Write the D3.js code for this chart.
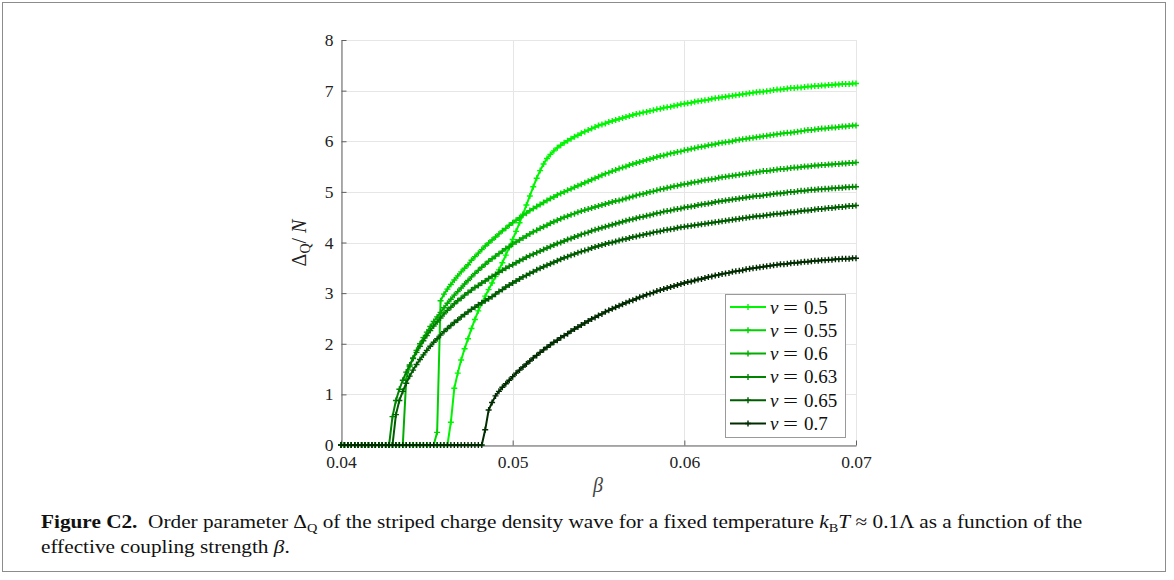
<!DOCTYPE html>
<html>
<head>
<meta charset="utf-8">
<script src="https://cdn.jsdelivr.net/npm/d3@7"></script>
<style>
  body { margin: 0; background: #fff; }
  svg { display: block; }
</style>
</head>
<body>
<svg id="fig" width="1174" height="580"></svg>
<script>
// Sampling grid of the coupling strength beta
const betaStart = 0.04;
const betaStep = 0.0002;
const betaCount = 151;

const xTicks = [0.04, 0.05, 0.06, 0.07];
const yTicks = [0, 1, 2, 3, 4, 5, 6, 7, 8];
const nuLabels = ["0.5", "0.55", "0.6", "0.63", "0.65", "0.7"];

// Order parameter Delta_Q / N for each filling nu, one value per beta sample
const nu05 = [
  0,0,0,0,0,0,0,0,0,0,
  0,0,0,0,0,0,0,0,0,0,
  0,0,0,0,0,0,0,0,0,0,
  0,0,0.45,1.12,1.42,1.68,1.9,2.1,2.3,2.48,
  2.65,2.8,2.94,3.07,3.2,3.33,3.46,3.6,3.75,3.9,
  4.06,4.22,4.39,4.56,4.74,4.92,5.1,5.27,5.42,5.55,
  5.66,5.74,5.81,5.87,5.92,5.97,6.01,6.05,6.09,6.12,
  6.16,6.19,6.22,6.25,6.28,6.31,6.33,6.35,6.38,6.4,
  6.42,6.44,6.46,6.48,6.5,6.52,6.54,6.55,6.57,6.58,
  6.6,6.61,6.63,6.64,6.66,6.67,6.68,6.7,6.71,6.73,
  6.74,6.75,6.76,6.78,6.79,6.8,6.81,6.82,6.84,6.85,
  6.86,6.87,6.88,6.89,6.9,6.91,6.92,6.93,6.94,6.95,
  6.96,6.97,6.98,6.98,6.99,7.0,7.01,7.02,7.02,7.03,
  7.04,7.05,7.05,7.06,7.06,7.07,7.08,7.08,7.09,7.09,
  7.1,7.1,7.11,7.11,7.12,7.12,7.13,7.13,7.13,7.14,
  7.14
];
const nu055 = [
  0,0,0,0,0,0,0,0,0,0,
  0,0,0,0,0,0,0,0,0,0,
  0,0,0,0,0,0,0,0,0.25,2.85,
  2.98,3.08,3.17,3.26,3.34,3.42,3.49,3.56,3.65,3.72,
  3.79,3.86,3.93,3.99,4.05,4.11,4.17,4.23,4.28,4.34,
  4.39,4.44,4.49,4.54,4.58,4.63,4.67,4.71,4.75,4.79,
  4.83,4.87,4.9,4.94,4.97,5.0,5.03,5.06,5.09,5.12,
  5.15,5.18,5.21,5.24,5.27,5.3,5.33,5.36,5.38,5.41,
  5.43,5.46,5.48,5.5,5.53,5.55,5.57,5.59,5.61,5.63,
  5.65,5.67,5.69,5.71,5.72,5.74,5.76,5.77,5.79,5.8,
  5.82,5.83,5.85,5.86,5.88,5.89,5.9,5.92,5.93,5.94,
  5.96,5.97,5.98,5.99,6.0,6.02,6.03,6.04,6.05,6.06,
  6.07,6.08,6.09,6.1,6.11,6.12,6.13,6.14,6.15,6.16,
  6.17,6.17,6.18,6.19,6.2,6.21,6.22,6.22,6.23,6.24,
  6.25,6.25,6.26,6.27,6.27,6.28,6.29,6.29,6.3,6.31,
  6.31
];
const nu06 = [
  0,0,0,0,0,0,0,0,0,0,
  0,0,0,0,0,0,0,0,0,1.3,
  1.55,1.72,1.87,2.0,2.12,2.23,2.34,2.44,2.53,2.62,
  2.71,2.8,2.88,2.96,3.03,3.1,3.18,3.25,3.32,3.39,
  3.45,3.51,3.57,3.63,3.68,3.73,3.78,3.83,3.88,3.92,
  3.97,4.01,4.05,4.09,4.13,4.17,4.21,4.24,4.28,4.31,
  4.34,4.38,4.41,4.44,4.47,4.5,4.52,4.55,4.57,4.6,
  4.62,4.64,4.66,4.68,4.7,4.72,4.74,4.76,4.78,4.8,
  4.82,4.83,4.85,4.87,4.89,4.91,4.93,4.95,4.96,4.98,
  5.0,5.01,5.03,5.05,5.06,5.08,5.09,5.11,5.12,5.14,
  5.15,5.16,5.18,5.19,5.2,5.22,5.23,5.24,5.25,5.26,
  5.28,5.29,5.3,5.31,5.32,5.33,5.34,5.35,5.36,5.37,
  5.38,5.39,5.4,5.41,5.41,5.42,5.43,5.44,5.45,5.45,
  5.46,5.47,5.48,5.48,5.49,5.5,5.5,5.51,5.52,5.52,
  5.53,5.53,5.54,5.54,5.55,5.55,5.56,5.56,5.57,5.57,
  5.58
];
const nu063 = [
  0,0,0,0,0,0,0,0,0,0,
  0,0,0,0,0,0.56,0.88,1.1,1.28,1.44,
  1.58,1.71,1.83,1.95,2.06,2.16,2.26,2.35,2.43,2.51,
  2.59,2.66,2.72,2.79,2.85,2.9,2.96,3.01,3.06,3.11,
  3.15,3.2,3.24,3.29,3.33,3.37,3.41,3.45,3.49,3.53,
  3.56,3.6,3.64,3.67,3.71,3.74,3.77,3.8,3.83,3.86,
  3.89,3.92,3.95,3.98,4.0,4.03,4.06,4.08,4.11,4.13,
  4.16,4.18,4.2,4.23,4.25,4.27,4.29,4.31,4.33,4.35,
  4.37,4.39,4.41,4.43,4.45,4.46,4.48,4.5,4.51,4.53,
  4.54,4.56,4.58,4.59,4.61,4.62,4.63,4.65,4.66,4.67,
  4.69,4.7,4.71,4.72,4.74,4.75,4.76,4.77,4.78,4.8,
  4.81,4.82,4.83,4.84,4.85,4.86,4.87,4.88,4.89,4.9,
  4.91,4.92,4.92,4.93,4.94,4.95,4.96,4.97,4.97,4.98,
  4.99,5.0,5.0,5.01,5.02,5.02,5.03,5.04,5.04,5.05,
  5.05,5.06,5.06,5.07,5.07,5.08,5.08,5.09,5.09,5.1,
  5.1
];
const nu065 = [
  0,0,0,0,0,0,0,0,0,0,
  0,0,0,0,0,0,0.6,0.88,1.06,1.22,
  1.36,1.48,1.59,1.69,1.78,1.87,1.95,2.03,2.1,2.17,
  2.24,2.3,2.36,2.42,2.47,2.53,2.58,2.63,2.68,2.72,
  2.77,2.81,2.85,2.89,2.93,2.98,3.03,3.07,3.12,3.16,
  3.2,3.24,3.28,3.32,3.35,3.39,3.42,3.46,3.49,3.52,
  3.55,3.58,3.61,3.64,3.67,3.7,3.72,3.75,3.77,3.8,
  3.82,3.84,3.86,3.89,3.91,3.93,3.95,3.97,3.99,4.0,
  4.02,4.04,4.06,4.07,4.09,4.11,4.12,4.14,4.15,4.17,
  4.18,4.2,4.21,4.22,4.24,4.25,4.26,4.27,4.29,4.3,
  4.31,4.32,4.33,4.34,4.35,4.36,4.37,4.38,4.39,4.4,
  4.41,4.42,4.43,4.44,4.45,4.46,4.47,4.48,4.49,4.5,
  4.51,4.52,4.52,4.53,4.54,4.55,4.56,4.57,4.57,4.58,
  4.59,4.6,4.6,4.61,4.62,4.63,4.63,4.64,4.65,4.66,
  4.66,4.67,4.68,4.68,4.69,4.7,4.7,4.71,4.72,4.72,
  4.73
];
const nu07 = [
  0,0,0,0,0,0,0,0,0,0,
  0,0,0,0,0,0,0,0,0,0,
  0,0,0,0,0,0,0,0,0,0,
  0,0,0,0,0,0,0,0,0,0,
  0,0,0.3,0.69,0.84,0.97,1.06,1.14,1.21,1.28,
  1.35,1.42,1.48,1.54,1.6,1.66,1.72,1.77,1.83,1.88,
  1.93,1.98,2.03,2.07,2.12,2.16,2.2,2.25,2.29,2.33,
  2.37,2.41,2.45,2.49,2.52,2.56,2.59,2.63,2.66,2.69,
  2.72,2.75,2.78,2.81,2.84,2.86,2.89,2.92,2.94,2.97,
  2.99,3.01,3.04,3.06,3.08,3.1,3.12,3.14,3.16,3.18,
  3.2,3.22,3.23,3.25,3.27,3.28,3.3,3.32,3.33,3.35,
  3.36,3.38,3.39,3.4,3.42,3.43,3.44,3.45,3.47,3.48,
  3.49,3.5,3.51,3.52,3.53,3.54,3.55,3.56,3.57,3.57,
  3.58,3.59,3.6,3.6,3.61,3.62,3.62,3.63,3.64,3.64,
  3.65,3.65,3.66,3.66,3.67,3.67,3.68,3.68,3.68,3.69,
  3.69
];

const seriesValues = [nu05, nu055, nu06, nu063, nu065, nu07];
const seriesColors = ["#00f500", "#00d400", "#00ad00", "#008400", "#005c00", "#002c00"];

const beta = d3.range(betaCount).map(i => betaStart + i * betaStep);

const svg = d3.select("#fig");
const serif = "'Liberation Serif', 'Times New Roman', serif";

// outer frame of the figure
svg.append("rect")
  .attr("x", 2.5).attr("y", 2.5).attr("width", 1163).attr("height", 569)
  .attr("fill", "#fff").attr("stroke", "#8c8c8c").attr("stroke-width", 1);

const x = d3.scaleLinear().domain([0.04, 0.07]).range([341, 856]);
const y = d3.scaleLinear().domain([0, 8]).range([445, 40]);

// grid
const grid = svg.append("g").attr("stroke", "#e6e6e6").attr("stroke-width", 1);
grid.selectAll(".gx").data(xTicks).join("line")
  .attr("x1", d => Math.round(x(d)) + 0.5).attr("x2", d => Math.round(x(d)) + 0.5)
  .attr("y1", y(0)).attr("y2", y(8));
grid.selectAll(".gy").data(yTicks).join("line")
  .attr("y1", d => Math.round(y(d)) + 0.5).attr("y2", d => Math.round(y(d)) + 0.5)
  .attr("x1", x(0.04)).attr("x2", x(0.07));

// axes
const axisColor = "#606060";
const gx = svg.append("g").attr("transform", `translate(0,${Math.round(y(0)) + 0.5})`)
  .call(d3.axisBottom(x).tickValues(xTicks).tickFormat(d3.format(".2f"))
    .tickSize(-5).tickSizeOuter(0).tickPadding(10));
const gy = svg.append("g").attr("transform", `translate(${Math.round(x(0.04)) + 0.5},0)`)
  .call(d3.axisLeft(y).tickValues(yTicks).tickFormat(d3.format("d"))
    .tickSize(-5).tickSizeOuter(0).tickPadding(8));
[gx, gy].forEach(g => {
  g.select(".domain").attr("stroke", axisColor);
  g.selectAll(".tick line").attr("stroke", axisColor);
  g.selectAll(".tick text").attr("fill", "#222").attr("font-family", serif).attr("font-size", 17.5);
});

// series: solid line with a plus marker on every sample
const line = d3.line().x((d, i) => x(beta[i])).y(d => y(d));
const plus = "M-3,0H3M0,-3V3";
seriesValues.forEach((vals, k) => {
  const g = svg.append("g");
  g.append("path").datum(vals)
    .attr("d", line).attr("fill", "none")
    .attr("stroke", seriesColors[k]).attr("stroke-width", 2)
    .attr("stroke-linejoin", "round");
  g.selectAll("path.m").data(vals).join("path").attr("class", "m")
    .attr("d", plus)
    .attr("transform", (d, i) => `translate(${x(beta[i])},${y(d)})`)
    .attr("stroke", seriesColors[k]).attr("stroke-width", 1.4).attr("fill", "none");
});

// axis titles
const yl = svg.append("text")
  .attr("transform", "translate(306,243) rotate(-90)")
  .attr("text-anchor", "middle").attr("font-family", serif).attr("font-size", 20).attr("fill", "#222");
yl.append("tspan").text("Δ");
yl.append("tspan").attr("font-size", 14).attr("dy", 4).text("Q");
yl.append("tspan").attr("dy", -4).text("/ ");
yl.append("tspan").attr("font-style", "italic").text("N");

svg.append("text").attr("x", 598).attr("y", 492).attr("text-anchor", "middle")
  .attr("font-family", serif).attr("font-size", 20).attr("font-style", "italic")
  .attr("fill", "#444").text("β");

// legend
const leg = svg.append("g");
leg.append("rect").attr("x", 725.5).attr("y", 294.5).attr("width", 120).attr("height", 143)
  .attr("fill", "#fff").attr("stroke", "#9a9a9a").attr("stroke-width", 1);
nuLabels.forEach((lab, k) => {
  const cy = 307 + 23.3 * k;
  leg.append("line").attr("x1", 730).attr("x2", 766).attr("y1", cy).attr("y2", cy)
    .attr("stroke", seriesColors[k]).attr("stroke-width", 2);
  leg.append("path").attr("d", plus).attr("transform", `translate(748,${cy})`)
    .attr("stroke", seriesColors[k]).attr("stroke-width", 1.4);
  leg.append("text").attr("x", 770).attr("y", cy + 6.5).attr("font-family", serif)
    .attr("font-size", 19).attr("font-style", "italic").attr("fill", "#111").text("ν");
  leg.append("text").attr("transform", `translate(790.5,${cy + 6.5}) scale(1.4,1)`)
    .attr("text-anchor", "middle").attr("font-family", serif)
    .attr("font-size", 19).attr("fill", "#111").text("=");
  leg.append("text").attr("x", 804).attr("y", cy + 6.5).attr("font-family", serif)
    .attr("font-size", 19).attr("fill", "#111").text(lab);
});

// caption
const cap = svg.append("g").attr("font-family", serif).attr("font-size", 18.5).attr("fill", "#111");
const c1 = cap.append("text").attr("x", 41).attr("y", 528);
c1.append("tspan").attr("font-weight", "bold").text("Figure C2.");
c1.append("tspan").text("\u2002Order parameter Δ");
c1.append("tspan").attr("font-size", 12.5).attr("dy", 4).text("Q");
c1.append("tspan").attr("dy", -4).text(" of the striped charge density wave for a fixed temperature ");
c1.append("tspan").attr("font-style", "italic").text("k");
c1.append("tspan").attr("font-size", 12.5).attr("dy", 4).text("B");
c1.append("tspan").attr("dy", -4).attr("font-style", "italic").text("T");
c1.append("tspan").text(" ≈ 0.1Λ as a function of the");
const c2 = cap.append("text").attr("x", 41).attr("y", 553);
c2.append("tspan").text("effective coupling strength ");
c2.append("tspan").attr("font-style", "italic").text("β");
c2.append("tspan").text(".");

// fit the first caption line to the text block width
const w1 = c1.node().getComputedTextLength();
const sx = 1042 / w1;
[c1, c2].forEach(t => t.attr("transform", `translate(41,0) scale(${sx},1) translate(-41,0)`));
</script>
</body>
</html>
